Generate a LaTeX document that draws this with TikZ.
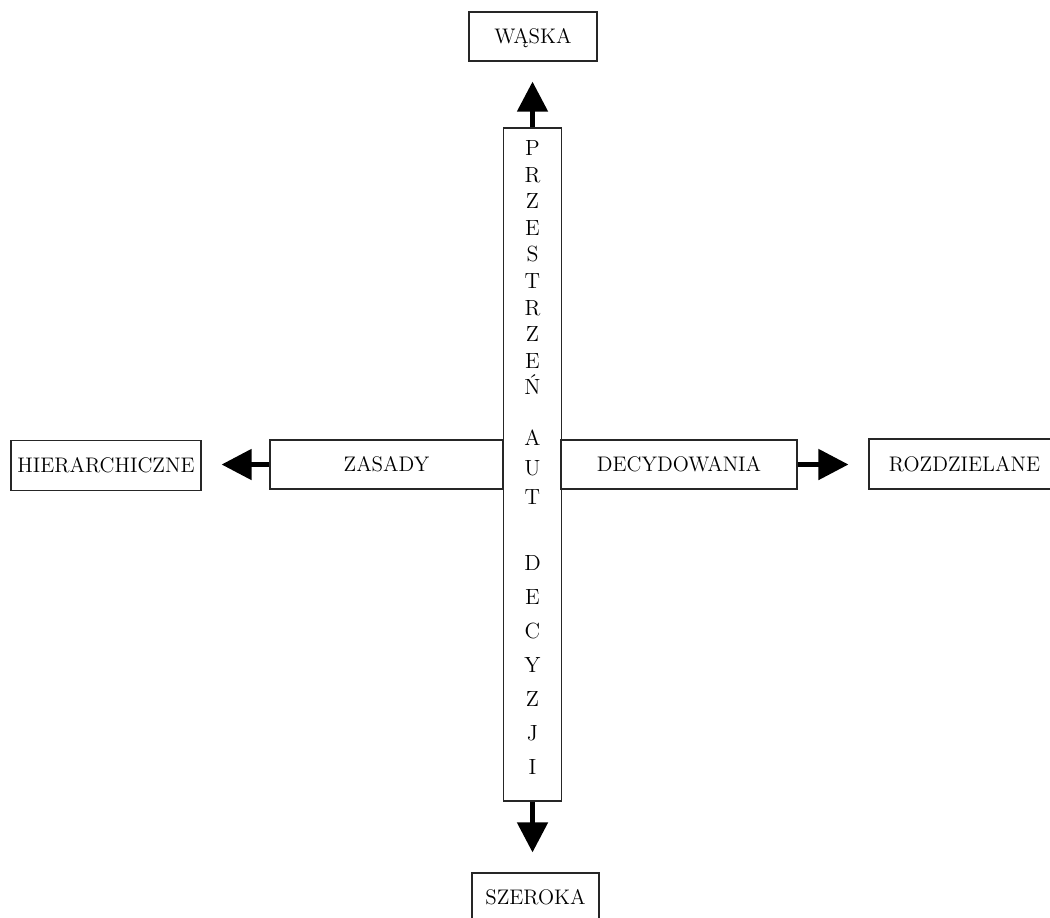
\documentclass[tikz,border=0pt]{standalone}
\usepackage{fontspec}
\usepackage{tikz}
\usetikzlibrary{arrows.meta, positioning, calc}
\tikzset{
  endbox/.style = {rectangle, draw=black!85, line width=0.7pt, minimum height=0.98cm, inner sep=0pt, text height=8.2pt, text depth=0pt, font=\fontsize{12}{14}\selectfont},
  axisbox/.style = {rectangle, draw=black!85, line width=0.8pt, minimum height=0.98cm, inner sep=0pt, text height=8.2pt, text depth=0pt, font=\fontsize{12}{14}\selectfont},
  barbox/.style = {rectangle, draw=black!85, line width=0.9pt, minimum width=1.16cm, minimum height=13.46cm, inner sep=0pt},
  letter/.style = {anchor=base, inner sep=0pt, font=\fontsize{12.5}{14}\selectfont},
  bigarrow/.style = {-{Triangle[length=0.6cm, width=0.6cm]}, line width=2.8pt, black, shorten >=0.4cm}
}
\begin{document}
\begin{tikzpicture}[x=0.02cm, y=-0.02cm]
  \useasboundingbox (0,0) rectangle (1050,917);

  % Axis boxes
  \node (bar) [barbox] at (532.5,464.5) {};
  \node (zasady) [axisbox, minimum width=4.66cm] at (386.5,464.5) {ZASADY};
  \node (decyd) [axisbox, minimum width=4.72cm] at (679,464.5) {DECYDOWANIA};

  % Vertical text
  \foreach \ch/\yy [count=\i] in {P/148, R/174.6, Z/201.2, E/227.8, S/254.4, T/281, R/307.6, Z/334.2, E/360.8, Ń/387.4,
                                   A/438, U/468, T/497,
                                   D/563, E/597, C/631, Y/665, Z/699, J/733, I/767}
    \node (l\i) [letter] at (532.5,\yy+7.4) {\ch};

  % End boxes
  \node (waska) [endbox, minimum width=2.56cm] at (533,36.5) {WĄSKA};
  \node (szeroka) [endbox, minimum width=2.54cm] at (535.5,897.5) {SZEROKA};
  \node (hier) [endbox, minimum width=3.8cm, minimum height=1cm] at (106,465.5) {HIERARCHICZNE};
  \node (rozdz) [endbox, minimum width=3.82cm, minimum height=1cm] at (964.5,464) {ROZDZIELANE};

  % Connecting arrows
  \draw[bigarrow] (bar.north) -- (bar.north |- waska.south);
  \draw[bigarrow] (bar.south) -- (bar.south |- szeroka.north);
  \draw[bigarrow] (zasady.west) -- (zasady.west -| hier.east);
  \draw[bigarrow] (decyd.east) -- (decyd.east -| rozdz.west);
\end{tikzpicture}
\end{document}
